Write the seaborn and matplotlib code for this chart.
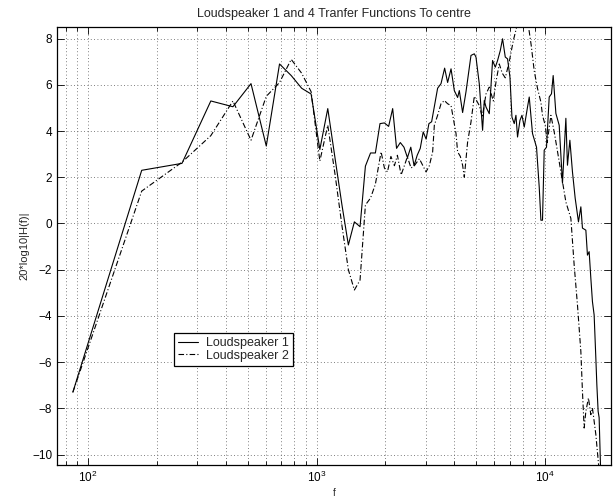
import matplotlib
matplotlib.use("Agg")
import matplotlib.pyplot as plt
import seaborn as sns
import pandas as pd
import numpy as np
from matplotlib.ticker import LogLocator, LogFormatterMathtext

# ---------------- data ----------------
title = "Loudspeaker 1 and 4 Tranfer Functions To centre"
xlabel = "f"
ylabel = "20*log10|H(f)|"
series_names = ["Loudspeaker 1", "Loudspeaker 2"]

f_ls1 = [86, 172, 258, 345, 431, 517, 603, 689, 775, 861, 947, 1034, 1120, 1206, 1292,
         1378, 1464, 1550, 1636, 1723, 1809, 1895, 1981, 2067, 2153, 2239, 2325, 2412,
         2498, 2584, 2670, 2756, 2842, 2928, 3015, 3101, 3187, 3385, 3503, 3633, 3744,
         3875, 4005, 4140, 4212, 4354, 4505, 4737, 4897, 4981, 5150, 5324, 5416, 5509,
         5598, 5695, 5887, 6050, 6191, 6362, 6510, 6690, 6846, 7013, 7156, 7323, 7449,
         7570, 7756, 7914, 8098, 8371, 8516, 8803, 9164, 9416, 9578, 9733, 9902, 10133,
         10412, 10655, 10837, 11137, 11514, 11902, 12315, 12515, 12822, 13161, 13523,
         13980, 14321, 14553, 15060, 15304, 15568, 15836, 16093, 16371, 16653, 16823,
         17043, 17215, 17477]
v_ls1 = [-7.3, 2.3, 2.6, 5.3, 5.05, 6.05, 3.35, 6.9, 6.4, 5.85, 5.6, 3.2, 4.97, 2.8, 0.8,
         -0.93, 0.07, -0.14, 2.48, 3.05, 3.05, 4.32, 4.35, 4.2, 4.97, 3.25, 3.5, 3.3,
         2.85, 3.3, 2.5, 2.95, 3.25, 3.96, 3.65, 4.32, 4.4, 5.85, 6.05, 6.72, 6.1,
         6.69, 5.75, 5.45, 5.75, 4.8, 5.7, 7.27, 7.34, 7.2, 6.04, 4.03, 5.32, 5.04,
         4.9, 4.75, 7.05, 6.76, 7.05, 7.48, 7.99, 7.2, 7.12, 6.33, 4.6, 4.32, 4.68,
         3.74, 4.46, 4.68, 4.17, 5.04, 5.47, 3.89, 3.3, 1.58, 0.14, 0.14, 3.17, 3.3,
         5.47, 5.61, 6.4, 4.76, 4.25, 1.74, 4.55, 2.52, 3.6, 2.23, 1.1,
         0.07, 0.72, -0.2, -0.29, -1.37, -1.22, -2.37, -3.38, -3.96, -5.82, -6.98,
         -8.13, -8.4, -10.7]

f_ls2 = [86, 172, 258, 345, 431, 517, 603, 689, 775, 861, 947, 1034, 1120, 1206, 1292,
         1378, 1464, 1550, 1636, 1723, 1809, 1916, 1981, 2042, 2115, 2191, 2258, 2344,
         2422, 2496, 2591, 2679, 2817, 3013, 3115, 3220, 3275, 3385, 3503, 3622, 3744,
         3875, 4074, 4140, 4255, 4354, 4429, 4578, 4737, 4897, 5150, 5308, 5509, 5695,
         5929, 6110, 6298, 6491, 6690, 6964, 7250, 7547, 7779, 8098, 8430, 8689, 8955,
         9257, 9578, 9733, 10002, 10205, 10591, 10949, 11284, 11712, 12315, 12951,
         13388, 13839, 14321, 14553, 14805, 15060, 15459, 15836, 16093, 16653, 17215]
v_ls2 = [-7.3, 1.4, 2.65, 3.8, 5.3, 3.6, 5.5, 6.1, 7.1, 6.5, 5.7, 2.7, 4.25, 2.1, -0.1,
         -2.0, -2.88, -2.45, 0.8, 1.1, 1.7, 3.1, 2.4, 2.23, 2.9, 2.5, 2.95, 2.1,
         2.5, 2.88, 2.4, 2.5, 2.8, 2.23, 2.5, 3.1, 4.25, 4.68, 5.18, 5.32, 5.18,
         5.1, 3.89, 3.1, 2.9, 2.52, 2.0, 3.52, 4.39, 5.5, 5.1, 4.6, 5.6, 5.9,
         5.3, 6.2, 6.9, 6.5, 6.3, 7.0, 7.9, 8.6, 9.0, 9.0, 8.6, 7.7, 6.6,
         5.84, 5.25, 4.68, 4.25, 3.5, 4.68, 3.96, 3.2, 2.23, 0.93, 0.22,
         -1.8, -3.52, -5.54, -7.27, -8.85, -8.13, -7.55, -8.27, -7.98, -9.13, -10.7]

yticks = [-10, -8, -6, -4, -2, 0, 2, 4, 6, 8]

# ---------------- figure ----------------
sns.set_style("ticks")
plt.rcParams["font.family"] = ["Liberation Sans", "DejaVu Sans"]
plt.rcParams["mathtext.default"] = "regular"

fig = plt.figure(figsize=(6.13, 4.97), dpi=100)
ax = fig.add_axes([57 / 613, 32 / 497, 554 / 613, 438 / 497])

df1 = pd.DataFrame({"f": f_ls1, "v": v_ls1})
df2 = pd.DataFrame({"f": f_ls2, "v": v_ls2})
sns.lineplot(data=df1, x="f", y="v", ax=ax, color="black", lw=0.8,
             estimator=None, label=series_names[0])
sns.lineplot(data=df2, x="f", y="v", ax=ax, color="black", lw=0.8,
             estimator=None, label=series_names[1])
ax.lines[1].set_linestyle((0, (5, 2, 1, 2)))

ax.set_xscale("log")
ax.set_xlim(73.3, 19400)
ax.set_ylim(-10.45, 8.5)
ax.set_yticks(yticks)
ax.xaxis.set_major_locator(LogLocator(base=10))
ax.xaxis.set_minor_locator(LogLocator(base=10, subs=np.arange(2, 10)))
ax.xaxis.set_major_formatter(LogFormatterMathtext())

grid_kw = dict(color="#555555", linestyle=(0, (1, 3)), linewidth=0.6)
ax.grid(True, which="major", axis="both", **grid_kw)
ax.grid(True, which="minor", axis="x", **grid_kw)

ax.tick_params(which="both", direction="in", top=True, right=True,
               labelsize=8.5, colors="black", width=0.6)
ax.tick_params(which="major", length=5)
ax.tick_params(which="minor", length=3)
for s in ax.spines.values():
    s.set_linewidth(0.9)
    s.set_color("black")

ax.set_title(title, fontsize=9, pad=7)
ax.set_xlabel(xlabel, fontsize=7, labelpad=2)
ax.set_ylabel(ylabel, fontsize=8, labelpad=2)

leg = ax.legend(loc="lower left", bbox_to_anchor=(0.211, 0.226), borderaxespad=0,
                fontsize=9, frameon=True, fancybox=False, framealpha=1,
                edgecolor="black", handlelength=1.6, borderpad=0.35,
                labelspacing=0.05, handletextpad=0.6)
leg.get_frame().set_linewidth(0.9)
for h in leg.get_lines():
    h.set_linewidth(0.8)

fig.savefig("out.png", dpi=100)
